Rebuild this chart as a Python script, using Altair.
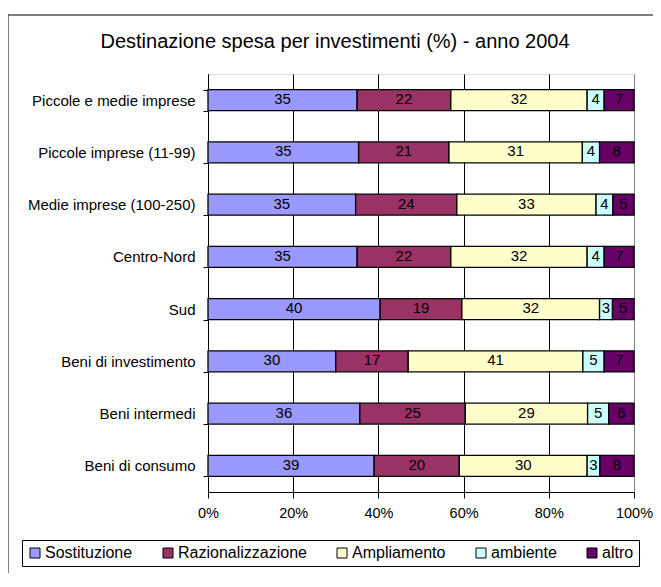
import altair as alt
import pandas as pd

categories = [
    "Piccole e medie imprese",
    "Piccole imprese (11-99)",
    "Medie imprese (100-250)",
    "Centro-Nord",
    "Sud",
    "Beni di investimento",
    "Beni intermedi",
    "Beni di consumo",
]
series = ["Sostituzione", "Razionalizzazione", "Ampliamento", "ambiente", "altro"]
sostituzione = [35, 35, 35, 35, 40, 30, 36, 39]
razionalizzazione = [22, 21, 24, 22, 19, 17, 25, 20]
ampliamento = [32, 31, 33, 32, 32, 41, 29, 30]
ambiente = [4, 4, 4, 4, 3, 5, 5, 3]
altro = [7, 8, 5, 7, 5, 7, 6, 8]
colors = ["#9999FF", "#993366", "#FFFFCC", "#CCFFFF", "#660066"]
x_ticks = [0, 0.2, 0.4, 0.6, 0.8, 1.0]
title_text = ["Destinazione spesa per investimenti (%) - anno 2004"]

values = [sostituzione, razionalizzazione, ampliamento, ambiente, altro]
rows = []
for si, s in enumerate(series):
    for ci, c in enumerate(categories):
        rows.append({"cat": c, "serie": s, "value": values[si][ci], "ord": si})
df = pd.DataFrame(rows)

FONT = "Liberation Sans"

y_enc = alt.Y(
    "cat:N",
    sort=categories,
    title=None,
    scale=alt.Scale(paddingInner=0.6, paddingOuter=0.3),
    axis=alt.Axis(
        tickBand="extent",
        tickSize=5,
        tickColor="black",
        domainColor="black",
        labelFont=FONT,
        labelFontSize=15,
        labelColor="black",
        labelPadding=8,
        labelLimit=300,
        grid=False,
    ),
)

base = alt.Chart(df).transform_stack(
    stack="value",
    groupby=["cat"],
    as_=["x0", "x1"],
    offset="normalize",
    sort=[alt.SortField("ord", order="ascending")],
).transform_calculate(mid="(datum.x0 + datum.x1) / 2")

bars = base.mark_bar(stroke="black", strokeWidth=1.3).encode(
    y=y_enc,
    x=alt.X(
        "x0:Q",
        title=None,
        scale=alt.Scale(domain=[0, 1], nice=False),
        axis=alt.Axis(
            values=x_ticks,
            format=".0%",
            grid=True,
            gridColor={"condition": {"test": "datum.value === 1", "value": "#808080"}, "value": "black"},
            gridWidth=1,
            tickSize=6,
            tickColor="black",
            domainColor="black",
            labelFont=FONT,
            labelFontSize=14.5,
            labelColor="black",
            labelPadding=8,
            labelFlush=False,
        ),
    ),
    x2="x1:Q",
    color=alt.Color(
        "serie:N",
        sort=series,
        scale=alt.Scale(domain=series, range=colors),
        legend=alt.Legend(
            title=None,
            orient="none",
            legendX=-186,
            legendY=466,
            direction="horizontal",
            columns=5,
            symbolType="square",
            symbolSize=100,
            symbolStrokeColor="black",
            symbolStrokeWidth=1,
            symbolOpacity=1,
            labelFont=FONT,
            labelFontSize=16,
            labelColor="black",
            labelOffset=2,
            labelLimit=300,
            columnPadding=27,
            strokeColor="black",
            fillColor="white",
            padding=5,
        ),
    ),
    order=alt.Order("ord:Q"),
)

labels = base.mark_text(font=FONT, fontSize=15, color="black", dy=-1).encode(
    y=alt.Y("cat:N", sort=categories),
    x=alt.X("mid:Q"),
    text=alt.Text("value:Q"),
)

title = alt.Chart(pd.DataFrame({"t": title_text})).mark_text(
    font=FONT, fontSize=20, color="black", align="center", baseline="middle"
).encode(x=alt.value(127), y=alt.value(-32), text="t:N")

frame = alt.Chart(pd.DataFrame({"a": [0]})).mark_rect(
    fill=None, stroke="black", strokeWidth=1
).encode(
    x=alt.value(-200), x2=alt.value(480), y=alt.value(-59), y2=alt.value(560)
)

chart = (
    alt.layer(frame, bars, labels, title)
    .properties(
        width=426,
        height=418,
        autosize=alt.AutoSizeParams(type="none"),
        padding={"left": 200, "top": 66, "right": 19, "bottom": 81},
    )
    .configure_view(stroke="#808080", strokeWidth=1)
    .configure(background="white")
)

chart.save("out.html", embed_options={"renderer": "svg", "actions": False})
